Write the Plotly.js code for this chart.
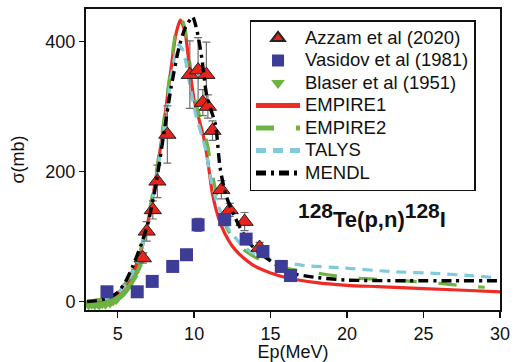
<!DOCTYPE html>
<html>
<head>
<meta charset="utf-8">
<script src="https://cdn.plot.ly/plotly-3.0.1.min.js"></script>
<style>html,body{margin:0;padding:0;background:#fff;}#chart{width:516px;height:362px;}</style>
</head>
<body>
<div id="chart"></div>
<script>
// Azzam et al (2020)
const azzamE   = [6.65, 6.9, 7.3, 7.6, 8.25, 9.72, 10.26, 10.8, 10.57, 10.9, 11.2, 11.78, 12.33, 13.3, 14.28];
const azzamS   = [67, 108, 141, 185, 257, 349, 356, 349, 306, 300, 263, 172, 141, 123, 83];
const azzamErr = [8, 15, 14, 25, 44, 52, 50, 50, 20, 18, 15, 14, 10, 14, 8];
// Vasidov et al (1981)
const vasE = [4.3, 6.28, 7.26, 8.6, 9.5, 10.26, 12.0, 13.4, 14.5, 15.7, 16.3];
const vasS = [15, 15, 31, 54, 72, 118, 126, 96, 77, 54, 40];
const vasErr = [0, 0, 0, 0, 0, 10, 0, 0, 0, 0, 0];
// Blaser et al (1951)
const blaE = [3.0,3.1,3.2,3.3,3.4,3.5,3.6,3.7,3.8,3.9,4.0,4.1,4.2,4.3,4.4,4.5,4.6,4.7,4.8,4.9,5.0,5.1,5.2,5.3,5.4,5.5,5.6,5.7,5.8,5.9,6.0,6.1,6.2,6.3,6.4,6.5,6.6];
const blaS = [-3,-6,-2,-5,-3,-6,-2,-4,-6,-2,-4,-1,-5,-1,0,-3,1,0,3,2,5,8,10,12,14,17,20,24,28,32,36,42,47,52,58,65,72];
// Model curves
const emp1E = [3,3.5,4,4.5,5,5.5,6,6.5,7,7.5,8,8.5,8.8,9.1,9.4,9.7,10,10.3,10.6,10.9,11.2,11.6,12,12.5,13,14,15,16,18,20,22,25,28,30];
const emp1S = [0,1,3,7,13,25,45,75,125,190,270,360,410,433,415,360,310,282,255,215,165,128,105,85,72,54,44,37,29,25,23,20,17,15];
const emp2E = [3,3.5,4,4.5,5,5.5,6,6.5,7,7.5,8,8.5,8.8,9.15,9.4,9.7,10,10.3,10.6,10.9,11.2,11.6,12,12.5,13,14,15,16,17.4,20,23,25.6,28.2,29];
const emp2S = [0,2,4,8,15,28,48,80,130,195,275,365,415,436,420,370,320,290,268,238,195,150,120,98,84,68,58,51,46,37,33,29,23,22];
const talE = [3,3.5,4,4.5,5,5.5,6,6.5,7,7.5,8,8.5,8.8,9.0,9.3,9.7,10.1,10.5,10.8,11.0,11.5,12.3,13,13.8,15,17,19.5,23,26,28,29.6];
const talS = [0,1,3,7,13,25,45,75,122,185,262,345,385,395,385,335,288,255,230,198,152,110,90,75,65,56,52,46,43,40,37];
const menE = [3,3.5,4,4.5,5,5.5,6,6.5,7,7.5,8,8.5,9,9.4,9.9,10.2,10.5,10.8,11.1,11.4,11.7,12.1,12.7,13.6,14.9,16.3,18,20,24,27,29.8];
const menS = [0,1,3,7,14,30,55,85,122,180,255,330,390,420,438,415,375,320,295,272,205,162,128,90,64,44,37,33,32,32,32];

const xTicks = [5,10,15,20,25,30];
const yTicks = [0,200,400];

const FONT = "Arial, 'Liberation Sans', sans-serif";
const nm = t => '<span style="font-size:18.5px">' + t + '</span>';

const traces = [
  {x: blaE, y: blaS, mode: 'markers', type: 'scatter', name: nm('Blaser et al (1951)'), legendrank: 3,
   marker: {symbol: 'triangle-down', size: 10, color: '#6cb33f'}},
  {x: emp1E, y: emp1S, mode: 'lines', type: 'scatter', name: nm('EMPIRE1'), legendrank: 4,
   line: {color: '#ee2b24', width: 3.2, shape: 'spline', smoothing: 0.6}},
  {x: emp2E, y: emp2S, mode: 'lines', type: 'scatter', name: nm('EMPIRE2'), legendrank: 5,
   line: {color: '#6cb33f', width: 3.2, dash: '18px,22px', shape: 'spline', smoothing: 0.6}},
  {x: talE, y: talS, mode: 'lines', type: 'scatter', name: nm('TALYS'), legendrank: 6,
   line: {color: '#7fcadb', width: 3.2, dash: '10px,7px', shape: 'spline', smoothing: 0.6}},
  {x: azzamE, y: azzamS, mode: 'markers', type: 'scatter', name: nm('Azzam et al (2020)'), legendrank: 1,
   error_y: {type: 'data', array: azzamErr, visible: true, color: '#6e6e6e', thickness: 1.2, width: 4},
   marker: {symbol: 'triangle-up', size: 15, color: '#e8231c', line: {color: '#222', width: 1}}},
  {x: menE, y: menS, mode: 'lines', type: 'scatter', name: nm('MENDL'), legendrank: 7,
   line: {color: '#000', width: 3.4, dash: '10px,5px,3px,5px', shape: 'spline', smoothing: 0.6}},
  {x: vasE, y: vasS, mode: 'markers', type: 'scatter', name: nm('Vasidov et al (1981)'), legendrank: 2,
   error_y: {type: 'data', array: vasErr, visible: true, color: '#6e6e6e', thickness: 1.2, width: 4},
   marker: {symbol: 'square', size: 13, color: '#3d3c97'}}
];

const layout = {
  width: 516, height: 362,
  margin: {l: 86, r: 16, t: 9, b: 52},
  paper_bgcolor: '#fff', plot_bgcolor: '#fff',
  font: {family: FONT, color: '#111', size: 18},
  showlegend: true,
  legend: {x: 0.395, y: 0.963, xanchor: 'left', yanchor: 'top',
    bgcolor: '#fff', bordercolor: '#111', borderwidth: 1.5,
    font: {family: FONT, size: 15, color: '#111'}, itemwidth: 44, itemsizing: 'constant', traceorder: 'normal'},
  xaxis: {range: [2.93, 30], tickvals: xTicks, ticktext: xTicks.map(String),
    showgrid: false, zeroline: false, showline: true, linecolor: '#111', linewidth: 2, mirror: true,
    ticks: 'outside', ticklen: 6, tickwidth: 1.5, tickcolor: '#111',
    tickfont: {size: 18, family: FONT},
    title: {text: 'Ep(MeV)', font: {size: 18, family: FONT}, standoff: 4}},
  yaxis: {range: [-13, 450], tickvals: yTicks, ticktext: yTicks.map(String),
    showgrid: false, zeroline: false, showline: true, linecolor: '#111', linewidth: 2, mirror: true,
    ticks: 'outside', ticklen: 5, tickwidth: 1.5, tickcolor: '#111',
    tickfont: {size: 18, family: FONT},
    title: {text: 'σ(mb)', font: {size: 18, family: FONT}, standoff: 16}},
  annotations: [{
    xref: 'paper', yref: 'paper', x: 0.69, y: 0.315, xanchor: 'center', yanchor: 'middle',
    showarrow: false,
    text: '<b><sup><span style="font-size:21px">128</span></sup>Te(p,n)<sup><span style="font-size:21px">128</span></sup>I</b>',
    font: {size: 22, family: FONT, color: '#111'}
  }]
};

Plotly.newPlot('chart', traces, layout, {staticPlot: true, displayModeBar: false});
</script>
</body>
</html>
